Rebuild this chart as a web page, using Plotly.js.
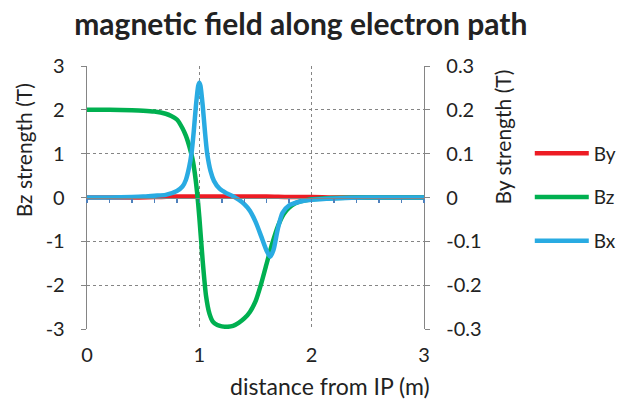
<!DOCTYPE html>
<html>
<head>
<meta charset="utf-8">
<script src="https://cdn.plot.ly/plotly-3.0.1.min.js"></script>
<style>
html,body{margin:0;padding:0;background:#fff;}
#chart{width:632px;height:401px;}
</style>
</head>
<body>
<div id="chart"></div>
<script>
// Distance from IP (m)
var xBz = [0, 0.2, 0.4, 0.5, 0.6, 0.7, 0.75, 0.8, 0.85, 0.88, 0.9, 0.92, 0.94, 0.96, 0.98, 1.0, 1.03, 1.06, 1.09, 1.12, 1.16, 1.2, 1.25, 1.3, 1.35, 1.4, 1.45, 1.5, 1.55, 1.6, 1.65, 1.7, 1.75, 1.8, 1.85, 1.9, 2.0, 2.1, 2.2, 2.4, 2.6, 2.8, 3.0];
var Bz  = [2.0, 2.0, 1.99, 1.98, 1.96, 1.91, 1.86, 1.78, 1.58, 1.41, 1.26, 1.08, 0.87, 0.55, 0.12, -0.45, -1.45, -2.25, -2.65, -2.83, -2.91, -2.94, -2.95, -2.93, -2.86, -2.76, -2.61, -2.37, -1.97, -1.5, -1.04, -0.65, -0.38, -0.23, -0.14, -0.09, -0.04, -0.02, -0.01, 0, 0, 0, 0];

var xBx = [0, 0.2, 0.4, 0.5, 0.6, 0.7, 0.8, 0.85, 0.88, 0.91, 0.93, 0.95, 0.97, 0.99, 1.0, 1.01, 1.03, 1.05, 1.07, 1.1, 1.13, 1.18, 1.24, 1.3, 1.35, 1.4, 1.45, 1.5, 1.55, 1.6, 1.63, 1.66, 1.7, 1.74, 1.8, 1.9, 2.0, 2.2, 2.5, 3.0];
var Bx  = [0, 0, 0.001, 0.002, 0.004, 0.006, 0.015, 0.025, 0.04, 0.07, 0.1, 0.15, 0.21, 0.255, 0.262, 0.255, 0.21, 0.15, 0.1, 0.06, 0.038, 0.02, 0.01, 0.003, -0.005, -0.015, -0.03, -0.055, -0.088, -0.122, -0.135, -0.12, -0.07, -0.035, -0.018, -0.009, -0.005, -0.002, 0, 0];

var xBy = [0, 0.4, 0.6, 0.8, 1.0, 1.2, 1.4, 1.6, 1.8, 2.0, 2.2, 2.5, 3.0];
var By  = [0, 0, 0.001, 0.002, 0.002, 0.002, 0.002, 0.002, 0.001, 0.001, 0, 0, 0];

var xTicks = [0, 1, 2, 3];
var bzTicks = [-3, -2, -1, 0, 1, 2, 3];
var byTicks = [-0.3, -0.2, -0.1, 0, 0.1, 0.2, 0.3];

var FONT = 'Lato, "Open Sans", sans-serif';
var GRID = '#858585';
var TXT = '#222';

var traces = [
  {name: 'By', x: xBy, y: By, xaxis: 'x', yaxis: 'y', type: 'scatter', mode: 'lines',
   line: {color: '#ed1c24', width: 4.5, shape: 'spline'}, legendgroup: 'a'},
  {name: 'Bz', x: xBz, y: Bz, xaxis: 'x', yaxis: 'y2', type: 'scatter', mode: 'lines',
   line: {color: '#00b050', width: 4.5, shape: 'spline', smoothing: 0.6}, legendgroup: 'b'},
  {name: 'Bx', x: xBx, y: Bx, xaxis: 'x2', yaxis: 'y3', type: 'scatter', mode: 'lines',
   line: {color: '#29abe2', width: 4.5, shape: 'spline', smoothing: 0.6}, legendgroup: 'c'}
];

var layout = {
  width: 632, height: 401,
  margin: {l: 87, r: 207, t: 66, b: 72},
  paper_bgcolor: '#fff', plot_bgcolor: '#fff',
  font: {family: FONT, size: 20, color: TXT},
  title: {text: '<b>magnetic field along electron path</b>', x: 0.476, xanchor: 'center', y: 0.94, yanchor: 'middle',
          font: {family: FONT, size: 30, color: TXT}},
  showlegend: true,
  legend: {x: 1.31, xanchor: 'left', y: 0.74, yanchor: 'top', tracegroupgap: 16, itemwidth: 54,
           font: {family: FONT, size: 19, color: TXT}, bgcolor: 'rgba(0,0,0,0)'},
  xaxis: {range: [0, 3], tickvals: xTicks, ticktext: xTicks.map(String), showline: false, ticks: '',
          showgrid: true, gridcolor: GRID, griddash: 'dot', gridwidth: 1.3, zeroline: false,
          ticklabelstandoff: 12, tickfont: {size: 20}},
  xaxis2: {range: [0, 3], overlaying: 'x', anchor: 'free', position: 0.5, showline: true, linecolor: GRID, linewidth: 1.2,
           ticks: 'outside', dtick: 0.2, tick0: 0, ticklen: 4, tickwidth: 1.5, tickcolor: '#4f81bd',
           showticklabels: false, showgrid: false, zeroline: false},
  yaxis: {range: [-0.3, 0.3], side: 'right', tickvals: byTicks, ticktext: ['-0.3','-0.2','-0.1','0','0.1','0.2','0.3'],
          showline: true, linecolor: GRID, linewidth: 1.3, ticks: 'outside', ticklen: 5, tickcolor: GRID,
          showgrid: true, gridcolor: GRID, griddash: 'dot', gridwidth: 1.3, zeroline: false, anchor: 'x',
          ticklabelstandoff: 12, tickfont: {size: 20}},
  yaxis2: {range: [-3, 3], side: 'left', overlaying: 'y', tickvals: bzTicks, ticktext: bzTicks.map(String),
           showline: true, linecolor: GRID, linewidth: 1.3, ticks: 'outside', ticklen: 5, tickcolor: GRID,
           showgrid: false, zeroline: false, ticklabelstandoff: 12, tickfont: {size: 20}},
  yaxis3: {range: [-0.3, 0.3], overlaying: 'y', visible: false, showgrid: false, zeroline: false},
  annotations: [
    {text: 'Bz strength (T)', textangle: -90, xref: 'paper', yref: 'paper', x: -0.19, y: 0.68,
     xanchor: 'center', yanchor: 'middle', showarrow: false, font: {family: FONT, size: 21, color: TXT}},
    {text: 'By strength (T)', textangle: -90, xref: 'paper', yref: 'paper', x: 1.23, y: 0.73,
     xanchor: 'center', yanchor: 'middle', showarrow: false, font: {family: FONT, size: 21, color: TXT}},
    {text: 'distance from IP (m)', xref: 'paper', yref: 'paper', x: 1.024, y: -0.217,
     xanchor: 'right', yanchor: 'middle', showarrow: false, font: {family: FONT, size: 23, color: TXT}}
  ]
};

Plotly.newPlot('chart', traces, layout, {staticPlot: true, displayModeBar: false});
</script>
</body>
</html>
